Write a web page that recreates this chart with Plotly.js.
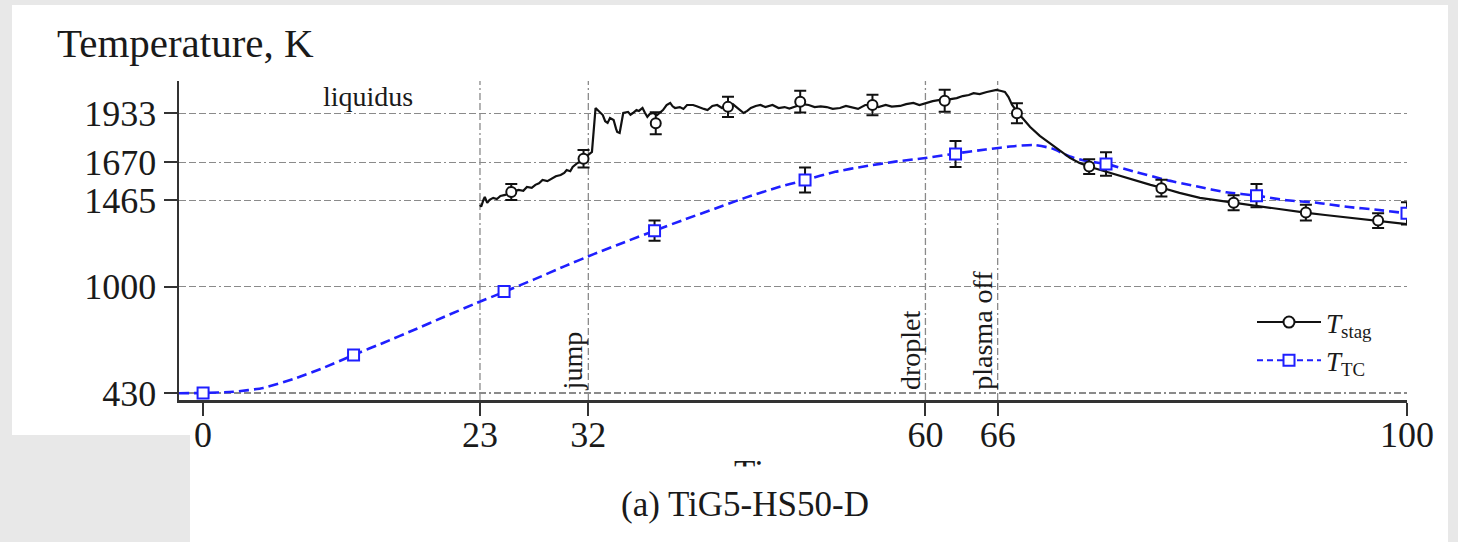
<!DOCTYPE html>
<html><head><meta charset="utf-8">
<script src="https://cdn.plot.ly/plotly-3.0.1.min.js"></script>
<style>html,body{margin:0;padding:0;background:#e8e8e8;} #chart{width:1458px;height:542px;}</style>
</head><body><div id="chart"></div>
<script>
// ---------------- data ----------------
const tcCurveTime = [-2, 0, 2.5, 5, 7.5, 10, 12.5, 15, 17.5, 20, 22.5, 25, 27.5, 30, 32.5, 35, 37.5, 40, 42.5, 45, 47.5, 50, 52.5, 55, 57.5, 60, 62.5, 65, 67.5, 69, 70.5, 72, 73.5, 75, 77.5, 80, 82.5, 85, 87.5, 90, 92.5, 95, 97.5, 100];
const tcCurveTemp = [428, 430, 436, 457, 505, 565, 634, 700, 768, 838, 907, 973, 1040, 1110, 1177, 1240, 1302, 1362, 1420, 1478, 1530, 1574, 1618, 1648, 1673, 1692, 1716, 1738, 1757, 1762, 1744, 1700, 1675, 1660, 1617, 1574, 1540, 1508, 1490, 1465, 1452, 1430, 1414, 1395];

const tcMarkerTime = [0, 12.5, 25, 37.5, 50, 62.5, 75, 87.5, 100];
const tcMarkerTemp = [430, 634, 975, 1302, 1574, 1714, 1660, 1490, 1395];
const tcMarkerErr  = [8, 10, 30, 54, 67, 70, 63, 63, 60];

const stagTime = [23.0, 23.1, 23.3, 23.4, 23.6, 23.8, 24.1, 24.4, 24.7, 25.1, 25.5, 25.9, 26.2, 26.6, 26.9, 27.3, 27.6, 27.9, 28.2, 28.6, 29.0, 29.3, 29.7, 30.0, 30.2, 30.5, 30.7, 31.1, 31.4, 31.6, 32.0, 32.3, 32.6, 32.8, 33.0, 33.2, 33.4, 33.6, 33.8, 34.1, 34.3, 34.4, 34.6, 34.8, 34.9, 35.3, 35.5, 35.7, 36.0, 36.2, 36.5, 36.7, 36.9, 37.1, 37.4, 37.7, 38.0, 38.2, 38.5, 38.8, 39.0, 39.2, 39.6, 39.9, 40.2, 40.7, 41.0, 41.3, 41.6, 41.9, 42.3, 42.7, 43.1, 43.5, 44.0, 44.3, 44.6, 44.9, 45.2, 45.5, 45.9, 46.3, 46.7, 47.3, 47.8, 48.3, 48.7, 49.3, 49.8, 50.3, 50.8, 51.3, 51.8, 52.3, 52.9, 53.4, 53.9, 54.4, 55.0, 55.6, 56.1, 56.7, 57.2, 57.9, 58.4, 59.0, 59.5, 60.1, 60.6, 61.2, 61.6, 62.1, 62.6, 63.1, 63.6, 64.0, 64.5, 65.1, 65.5, 65.9, 66.3, 66.6, 66.9, 67.2, 67.7, 68.2, 68.7, 69.5, 70.3, 71.2, 72.0, 72.8, 73.7, 75.1, 76.2, 77.2, 78.7, 79.7, 81.1, 82.8, 84.5, 85.7, 87.0, 88.4, 89.9, 91.7, 93.2, 94.7, 96.1, 97.8, 100.0];
const stagTemp = [1440, 1431, 1470, 1483, 1451, 1468, 1478, 1472, 1488, 1494, 1505, 1512, 1521, 1516, 1537, 1532, 1548, 1556, 1574, 1568, 1585, 1594, 1601, 1612, 1628, 1621, 1644, 1666, 1672, 1693, 1709, 1725, 1961, 1950, 1935, 1923, 1890, 1881, 1907, 1897, 1850, 1832, 1827, 1900, 1934, 1940, 1925, 1934, 1950, 1945, 1961, 1935, 1913, 1929, 1934, 1923, 1940, 1950, 1977, 1988, 1970, 1961, 1966, 1956, 1977, 1977, 1970, 1961, 1956, 1950, 1972, 1977, 1961, 1966, 1982, 1966, 1950, 1934, 1945, 1961, 1972, 1977, 1966, 1977, 1961, 1966, 1958, 1972, 1982, 1977, 1966, 1970, 1966, 1956, 1961, 1972, 1966, 1956, 1977, 1977, 1966, 1977, 1968, 1972, 1982, 1988, 1977, 1988, 1998, 2004, 1993, 2009, 2014, 2025, 2031, 2041, 2036, 2047, 2052, 2058, 2052, 2047, 2020, 1977, 1934, 1897, 1859, 1811, 1773, 1730, 1693, 1666, 1644, 1617, 1596, 1574, 1548, 1531, 1505, 1478, 1462, 1451, 1440, 1429, 1413, 1397, 1386, 1376, 1365, 1354, 1337];

const stagMarkerTime = [25.6, 31.6, 37.6, 43.6, 49.6, 55.6, 61.6, 67.6, 73.6, 79.6, 85.6, 91.6, 97.6];
const stagMarkerTemp = [1510, 1688, 1879, 1967, 1995, 1977, 2000, 1933, 1646, 1530, 1452, 1399, 1356];
const stagMarkerErr  = [43, 47, 59, 54, 58, 55, 59, 54, 40, 45, 40, 42, 40];

const xTickVals = [0, 23, 32, 60, 66, 100];
const yTickVals = [430, 1000, 1465, 1670, 1933];

const eventTimes  = [23, 32, 60, 66];
const eventLabels = ['', 'jump', 'droplet', 'plasma off'];

const liquidusTemp = 1933;
const seriesNames = ['<i>T</i><sub>stag</sub>', '<i>T</i><sub>TC</sub>'];

// ---------------- layout helpers ----------------
const W = 1458, H = 542, ML = 179, MR = 51, MT = 81, MB = 142;
const PW = W - ML - MR, PH = H - MT - MB;
const pX = px => (px - ML) / PW;
const pY = py => (H - MB - py) / PH;

const serif = 'Liberation Serif, Times New Roman, serif';
const txt = '#1a1a1a';
const gridDash = '7px,3px,7px,3px,7px,3px,7px,3px,2px,3px';
const gridCol = '#8a8a8a';
const black = '#111111';
const blue = '#1f1fff';

const traces = [
  { x: tcCurveTime, y: tcCurveTemp, type: 'scatter', mode: 'lines',
    line: { color: blue, width: 2.6, dash: '10px,5px', shape: 'spline', smoothing: 0.6 },
    showlegend: false, hoverinfo: 'skip' },
  { x: stagTime, y: stagTemp, type: 'scatter', mode: 'lines',
    line: { color: black, width: 2.2 }, showlegend: false, hoverinfo: 'skip' },
  { x: stagMarkerTime, y: stagMarkerTemp, type: 'scatter', mode: 'markers',
    marker: { symbol: 'circle', size: 10, color: '#ffffff', line: { color: black, width: 2 } },
    error_y: { type: 'data', array: stagMarkerErr, visible: true, color: black, thickness: 2, width: 6 },
    showlegend: false },
  { x: tcMarkerTime, y: tcMarkerTemp, type: 'scatter', mode: 'markers',
    marker: { symbol: 'square', size: 11, color: '#ffffff', line: { color: blue, width: 2 } },
    error_y: { type: 'data', array: tcMarkerErr, visible: true, color: black, thickness: 2, width: 6 },
    showlegend: false },
  // legend entries
  { x: [null], y: [null], type: 'scatter', mode: 'lines+markers', name: seriesNames[0],
    line: { color: black, width: 2 },
    marker: { symbol: 'circle', size: 11, color: '#ffffff', line: { color: black, width: 2 } } },
  { x: [null], y: [null], type: 'scatter', mode: 'lines+markers', name: seriesNames[1],
    line: { color: blue, width: 2, dash: '6px,4px' },
    marker: { symbol: 'square', size: 11, color: '#ffffff', line: { color: blue, width: 2 } } }
];

const shapes = [
  { type: 'rect', xref: 'paper', yref: 'paper', x0: pX(12), x1: pX(1448), y0: pY(435), y1: pY(5),
    fillcolor: '#ffffff', line: { width: 0 }, layer: 'below' },
  { type: 'rect', xref: 'paper', yref: 'paper', x0: pX(190), x1: pX(1448), y0: pY(542), y1: pY(434),
    fillcolor: '#ffffff', line: { width: 0 }, layer: 'below' }
];
eventTimes.forEach(t => shapes.push({
  type: 'line', xref: 'x', yref: 'paper', x0: t, x1: t, y0: 0, y1: 1,
  line: { color: gridCol, width: 1.3, dash: gridDash }, layer: 'below'
}));

const annotations = [
  { text: 'Temperature, K', xref: 'paper', yref: 'paper', x: pX(55), y: pY(43),
    xanchor: 'left', yanchor: 'middle', showarrow: false, font: { family: serif, size: 41, color: txt } },
  { text: 'liquidus', xref: 'x', yref: 'y', x: 13.7, y: liquidusTemp, xanchor: 'center', yanchor: 'bottom',
    showarrow: false, borderpad: 0, font: { family: serif, size: 28, color: txt } },
  { text: 'Time, s', xref: 'paper', yref: 'paper', x: pX(786), y: pY(473),
    xanchor: 'center', yanchor: 'middle', showarrow: false, font: { family: serif, size: 35, color: txt } },
  { text: ' ', xref: 'paper', yref: 'paper', x: pX(785), y: pY(481), width: 170, height: 27,
    xanchor: 'center', yanchor: 'middle', showarrow: false, bgcolor: '#ffffff', borderpad: 0,
    font: { family: serif, size: 10, color: '#ffffff' } },
  { text: '(a) TiG5-HS50-D', xref: 'paper', yref: 'paper', x: pX(745), y: pY(504),
    xanchor: 'center', yanchor: 'middle', showarrow: false, font: { family: serif, size: 35, color: txt } }
];
eventTimes.forEach((t, i) => {
  if (!eventLabels[i]) return;
  annotations.push({ text: eventLabels[i], xref: 'x', yref: 'y', x: t, y: 440,
    xanchor: 'right', yanchor: 'bottom', textangle: -90, showarrow: false, borderpad: 0, xshift: 1,
    font: { family: serif, size: 28, color: txt } });
});

const layout = {
  width: W, height: H,
  margin: { l: ML, r: MR, t: MT, b: MB, pad: 0 },
  paper_bgcolor: '#e8e8e8', plot_bgcolor: 'rgba(0,0,0,0)',
  font: { family: serif, color: txt },
  xaxis: {
    range: [-2, 100], tickmode: 'array', tickvals: xTickVals, ticktext: xTickVals.map(String),
    showgrid: false, zeroline: false, showline: true, linecolor: '#333', linewidth: 2.5,
    ticks: 'outside', ticklen: 13, tickwidth: 2, tickcolor: '#333', ticklabelstandoff: -12,
    tickfont: { family: serif, size: 36, color: txt }, fixedrange: true
  },
  yaxis: {
    range: [392, 2106], tickmode: 'array', tickvals: yTickVals, ticktext: yTickVals.map(String),
    showgrid: true, gridcolor: gridCol, gridwidth: 1.3, griddash: gridDash,
    zeroline: false, showline: true, linecolor: '#333', linewidth: 2.5,
    ticks: 'outside', ticklen: 13, tickwidth: 2, tickcolor: '#333', ticklabelstandoff: 0,
    tickfont: { family: serif, size: 36, color: txt }, fixedrange: true
  },
  legend: { x: pX(1252), y: pY(298), xanchor: 'left', yanchor: 'top', bgcolor: 'rgba(0,0,0,0)',
    itemwidth: 64, font: { family: serif, size: 27, color: txt }, tracegroupgap: 0 },
  showlegend: true,
  shapes: shapes,
  annotations: annotations
};

Plotly.newPlot('chart', traces, layout, { staticPlot: true, displayModeBar: false });
</script></body></html>
